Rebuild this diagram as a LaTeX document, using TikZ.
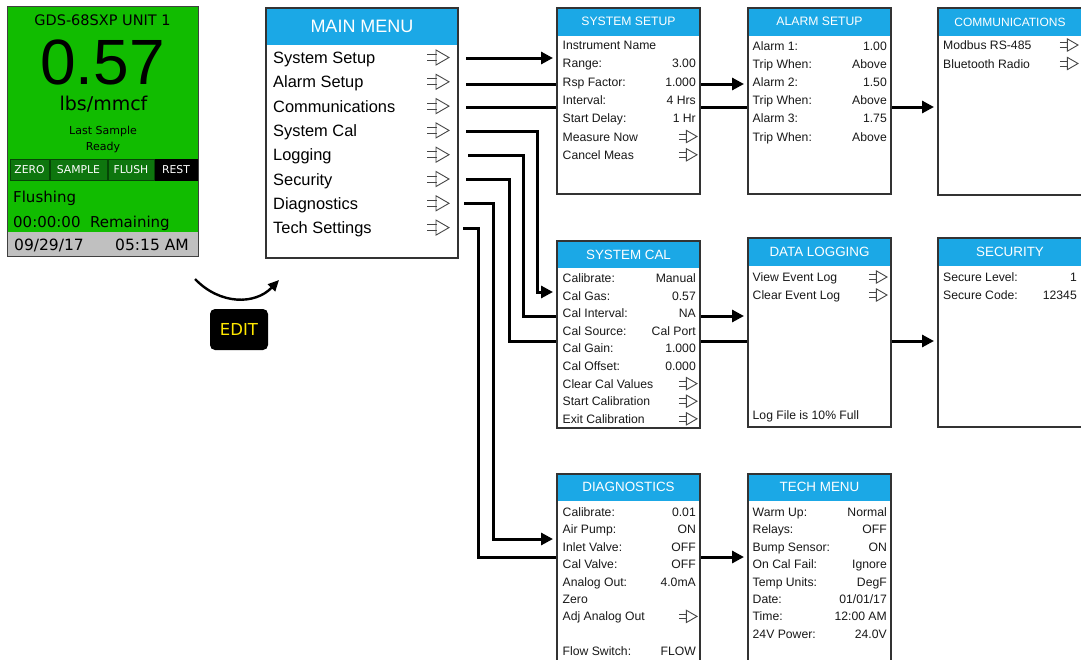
\documentclass[tikz,border=0pt]{standalone}
\usepackage{fontspec}
\setmainfont{Liberation Sans}
\newfontfamily\djv{DejaVu Sans}
\usetikzlibrary{arrows.meta,backgrounds,calc}
\definecolor{hblue}{RGB}{27,168,230}
\definecolor{devgreen}{RGB}{17,188,0}
\definecolor{btngreen}{RGB}{14,118,14}
\definecolor{btnedge}{RGB}{6,70,6}
\definecolor{devgray}{RGB}{192,192,192}
\definecolor{edityellow}{RGB}{255,232,0}
\definecolor{rowtext}{RGB}{25,25,25}
\definecolor{icongray}{RGB}{70,70,70}
\newcommand\rf{\fontsize{12.2}{14}\selectfont}
\newcommand\mf{\fontsize{16.4}{19}\selectfont}
\tikzset{
  boxfr/.style={fill=white, inner sep=0pt, outer sep=0pt},
  boxline/.style={draw=black!80, line width=1.2pt},
  hdrtext/.style={text=white, inner sep=0pt},
  rowl/.style={anchor=base west, inner sep=0pt, font=\rf, text=rowtext},
  rowr/.style={anchor=base east, inner sep=0pt, font=\rf, text=rowtext},
  meni/.style={anchor=base west, inner sep=0pt, font=\mf, text=black},
  conn/.style={line width=3pt, -{Triangle[length=12pt,width=12pt]}, shorten >=4pt},
  btn/.style={fill=btngreen, draw=btnedge, line width=0.8pt, minimum height=21pt, text=white, font=\djv\fontsize{10.8}{11}\selectfont, inner sep=0pt},
  devtxt/.style={inner sep=0pt, text=black},
  goarrow/.pic={\draw[icongray, line width=0.9pt] (-22,-3)--(-12.5,-3) (-22,3)--(-12.5,3);
                \draw[icongray, line width=0.9pt, line join=miter] (-13,-7.5)--(0,0)--(-13,7.5)--cycle;},
}
\newcommand\scrbox[8]{%
  \node[boxfr, minimum width=#4pt, minimum height=#5pt, anchor=north west] (#1) at (#2,#3) {};
  \fill[hblue] (#1.north west) rectangle ($(#1.north east)+(0,#6)$);
  \draw[boxline] (#1.north west) rectangle (#1.south east);
  \node[hdrtext, font=\fontsize{#7}{#7}\selectfont] (#1-t) at ($(#1.north)+(0,#6/2)$) {#8};
}
\begin{document}
\begin{tikzpicture}[x=1pt,y=-1pt]
\useasboundingbox (0,0) rectangle (1081,659);
\clip (0,0) rectangle (1081,659);

% ---------- device panel ----------
\node[fill=devgreen, minimum width=191pt, minimum height=250pt, anchor=north west, inner sep=0pt, outer sep=0pt] (dev) at (7.5,6.5) {};
\fill[devgray] (8,232) rectangle (dev.south east);
\draw[black!75, line width=1pt] (dev.north west) rectangle (dev.south east);
\node[devtxt, font=\djv\fontsize{14.5}{15}\selectfont, anchor=base] (dv-title) at (102.5,25.5) {GDS-68SXP UNIT 1};
\node[devtxt, font=\fontsize{64}{64}\selectfont, anchor=base] (dv-val) at (102.5,84) {0.57};
\node[devtxt, font=\djv\fontsize{19}{20}\selectfont, anchor=base] (dv-unit) at (103.5,110) {lbs/mmcf};
\node[devtxt, font=\djv\fontsize{11}{12}\selectfont, anchor=base] (dv-last) at (103,134.5) {Last Sample};
\node[devtxt, font=\djv\fontsize{11}{12}\selectfont, anchor=base] (dv-ready) at (103,150) {Ready};
\node[btn, minimum width=39pt] (bz) at (29.5,169.5) {ZERO};
\node[btn, minimum width=57pt] (bs) at (78.5,169.5) {SAMPLE};
\node[btn, minimum width=46pt] (bf) at (131,169.5) {FLUSH};
\node[btn, minimum width=42pt, fill=black, draw=black] (br) at (176,169.5) {REST};
\node[devtxt, font=\djv\fontsize{15}{16}\selectfont, anchor=base west] (dv-fl) at (13,202) {Flushing};
\node[devtxt, font=\djv\fontsize{15}{16}\selectfont, anchor=base west] (dv-rem) at (13,227) {00:00:00~~Remaining};
\node[devtxt, font=\djv\fontsize{15.5}{16}\selectfont, anchor=base west] (dv-date) at (14,250.5) {09/29/17};
\node[devtxt, font=\djv\fontsize{15.5}{16}\selectfont, anchor=base east] (dv-time) at (189,250.5) {05:15 AM};

% ---------- EDIT ----------
\node[fill=black, rounded corners=5pt, minimum width=58pt, minimum height=41pt, text=edityellow, font=\djv\fontsize{16.5}{17}\selectfont, inner sep=0pt] (edit) at (239,329.5) {EDIT};
\coordinate (ea) at (195,279);
\coordinate (eb) at (279,280);
\draw[line width=2.4pt, -{Triangle[length=11pt,width=10pt]}] (ea) .. controls (220,305) and (255,305) .. (eb);

% ---------- main menu ----------
\scrbox{mm}{266}{8}{192}{250}{37}{18}{MAIN MENU}
\foreach \t [count=\i from 0] in {System Setup, Alarm Setup, Communications, System Cal, Logging, Security, Diagnostics, Tech Settings}
{ \node[meni] (mm-\i) at (273, 63.5+24.3*\i) {\t};
  \pic at (449, 57.5+24.3*\i) {goarrow}; }

% ---------- boxes ----------
\scrbox{ss}{557}{8}{143}{186}{27.5}{12.2}{SYSTEM SETUP}
\foreach \t/\v [count=\i from 0] in {Instrument Name/{}, Range:/3.00, Rsp Factor:/1.000, Interval:/4 Hrs, Start Delay:/1 Hr, Measure Now/{}, Cancel Meas/{}}
{ \node[rowl] (ss-l\i) at (562.5, 49.5+18.3*\i) {\t};
  \node[rowr] (ss-r\i) at (696, 49.5+18.3*\i) {\v}; }
\foreach \i in {5,6} { \pic[scale=.82] at (697, 45+18.3*\i) {goarrow}; }

\scrbox{as}{748}{8}{143}{186}{27.5}{12.2}{ALARM SETUP}
\foreach \t/\v [count=\i from 0] in {Alarm 1:/1.00, Trip When:/Above, Alarm 2:/1.50, Trip When:/Above, Alarm 3:/1.75, Trip When:/Above}
{ \node[rowl] (as-l\i) at (752.5, 50+18.2*\i) {\t};
  \node[rowr] (as-r\i) at (887, 50+18.2*\i) {\v}; }

\scrbox{cm}{938}{8}{144}{187}{28}{12}{COMMUNICATIONS}
\foreach \t [count=\i from 0] in {Modbus RS-485, Bluetooth Radio}
{ \node[rowl] (cm-l\i) at (943, 49.5+18.5*\i) {\t};
  \pic[scale=.82] at (1078, 45+18.5*\i) {goarrow}; }

\scrbox{sc}{557}{241}{143}{187}{27}{13.4}{SYSTEM CAL}
\foreach \t/\v [count=\i from 0] in {Calibrate:/Manual, Cal Gas:/0.57, Cal Interval:/NA, Cal Source:/Cal Port, Cal Gain:/1.000, Cal Offset:/0.000, Clear Cal Values/{}, Start Calibration/{}, Exit Calibration/{}}
{ \node[rowl] (sc-l\i) at (562.5, 282.5+17.6*\i) {\t};
  \node[rowr] (sc-r\i) at (696, 282.5+17.6*\i) {\v}; }
\foreach \i in {6,7,8} { \pic[scale=.82] at (697, 278+17.6*\i) {goarrow}; }

\scrbox{dl}{748}{238}{143}{189}{28}{13.4}{DATA LOGGING}
\foreach \t [count=\i from 0] in {View Event Log, Clear Event Log}
{ \node[rowl] (dl-l\i) at (752.5, 281.5+18*\i) {\t};
  \pic[scale=.82] at (887, 277+18*\i) {goarrow}; }
\node[rowl] (dl-foot) at (752.5, 419.5) {Log File is 10\% Full};

\scrbox{se}{938}{238}{144}{189}{28}{13.4}{SECURITY}
\foreach \t/\v [count=\i from 0] in {Secure Level:/1, Secure Code:/12345}
{ \node[rowl] (se-l\i) at (943, 281.5+17.5*\i) {\t};
  \node[rowr] (se-r\i) at (1077, 281.5+17.5*\i) {\v}; }

\scrbox{dg}{557}{474}{143}{200}{26.5}{13.4}{DIAGNOSTICS}
\foreach \t/\v [count=\i from 0] in {Calibrate:/0.01, Air Pump:/ON, Inlet Valve:/OFF, Cal Valve:/OFF, Analog Out:/4.0mA, Zero/{}, Adj Analog Out/{}}
{ \node[rowl] (dg-l\i) at (562.5, 516.5+17.4*\i) {\t};
  \node[rowr] (dg-r\i) at (696, 516.5+17.4*\i) {\v}; }
\pic[scale=.82] at (697, 512+17.4*6) {goarrow};
\node[rowl] (dg-l8) at (562.5, 516.5+17.4*8) {Flow Switch:};
\node[rowr] (dg-r8) at (696, 516.5+17.4*8) {FLOW};

\scrbox{tm}{748}{474}{143}{200}{26.5}{13.4}{TECH MENU}
\foreach \t/\v [count=\i from 0] in {Warm Up:/Normal, Relays:/OFF, Bump Sensor:/ON, On Cal Fail:/Ignore, Temp Units:/DegF, Date:/{01/01/17}, Time:/12:00 AM, 24V Power:/24.0V}
{ \node[rowl] (tm-l\i) at (752.5, 516.5+17.4*\i) {\t};
  \node[rowr] (tm-r\i) at (887, 516.5+17.4*\i) {\v}; }

% ---------- connectors ----------
\coordinate (c1) at (466,58);
\coordinate (c2) at (466,84);
\coordinate (c3) at (466,107);
\coordinate (c4) at (466,131);
\coordinate (c5) at (468,155);
\coordinate (c6) at (466,179);
\coordinate (c7) at (464,203);
\coordinate (c8) at (463,228);
\coordinate (k4) at (537,292);
\coordinate (k5) at (523,316);
\coordinate (k6) at (509,341);
\coordinate (k7) at (493,539);
\coordinate (k8) at (478,557);
\begin{pgfonlayer}{background}
\draw[conn] (c1) -- (c1 -| ss.west);
\draw[conn] (c2) -- (c2 -| as.west);
\draw[conn] (c3) -- (c3 -| cm.west);
\draw[conn] (c4) -| (k4) -- (k4 -| sc.west);
\draw[conn] (c5) -| (k5) -- (k5 -| dl.west);
\draw[conn] (c6) -| (k6) -- (k6 -| se.west);
\draw[conn] (c7) -| (k7) -- (k7 -| dg.west);
\draw[conn] (c8) -| (k8) -- (k8 -| tm.west);
\end{pgfonlayer}
\end{tikzpicture}
\end{document}
